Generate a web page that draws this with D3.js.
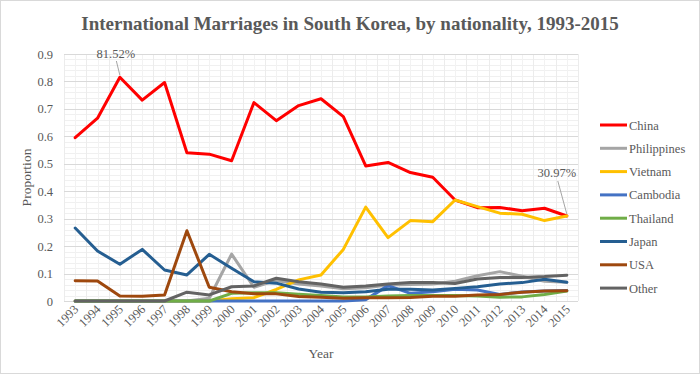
<!DOCTYPE html>
<html><head><meta charset="utf-8">
<script src="https://cdn.jsdelivr.net/npm/d3@7/dist/d3.min.js"></script>
<style>body{margin:0;background:#fff}svg{display:block}text{font-family:"Liberation Serif","Times New Roman",serif;fill:#595959}</style>
</head><body><svg id="c" width="700" height="374"></svg>
<script>
const years = ["1993","1994","1995","1996","1997","1998","1999","2000","2001","2002","2003","2004","2005","2006","2007","2008","2009","2010","2011","2012","2013","2014","2015"];
const yTicks = [0,0.1,0.2,0.3,0.4,0.5,0.6,0.7,0.8,0.9];
const seriesNames = ["China","Philippines","Vietnam","Cambodia","Thailand","Japan","USA","Other"];
const seriesColors = ["#ff0000","#a5a5a5","#ffc000","#4472c4","#70ad47","#255e91","#9e480e","#636363"];
const china       = [0.595,0.666,0.8152,0.732,0.796,0.540,0.535,0.511,0.723,0.657,0.712,0.737,0.672,0.492,0.505,0.468,0.451,0.368,0.340,0.341,0.329,0.338,0.3097];
const philippines = [0,0,0,0,0,0,0.010,0.171,0.050,0.075,0.062,0.055,0.045,0.048,0.058,0.060,0.062,0.072,0.092,0.107,0.090,0.072,0.068];
const vietnam     = [0,0,0,0,0,0,0,0.008,0.012,0.042,0.077,0.095,0.188,0.342,0.231,0.293,0.289,0.368,0.344,0.320,0.316,0.293,0.310];
const cambodia    = [0,0,0,0,0,0,0,0,0,0,0,0,0,0.005,0.056,0.028,0.034,0.043,0.040,0.024,0.033,0.036,0.038];
const thailand    = [0,0,0,0,0,0,0,0.028,0.030,0.030,0.025,0.020,0.015,0.015,0.018,0.020,0.020,0.020,0.018,0.014,0.015,0.024,0.036];
const japan       = [0.266,0.182,0.134,0.188,0.113,0.095,0.170,0.119,0.070,0.065,0.044,0.032,0.030,0.034,0.043,0.043,0.040,0.046,0.052,0.062,0.067,0.079,0.068];
const usa         = [0.074,0.073,0.018,0.017,0.022,0.256,0.050,0.034,0.026,0.026,0.016,0.014,0.010,0.012,0.012,0.013,0.017,0.017,0.022,0.024,0.032,0.036,0.037];
const other       = [0,0,0,0,0,0.032,0.022,0.052,0.055,0.083,0.070,0.062,0.050,0.055,0.062,0.067,0.067,0.064,0.080,0.086,0.086,0.089,0.094];
const seriesValues = [china,philippines,vietnam,cambodia,thailand,japan,usa,other];
const annotations = [{year:"1995", value:0.8152, label:"81.52%"},{year:"2015", value:0.3097, label:"30.97%"}];

const svg = d3.select("#c");
const L=64, R=578, T=54, B=301;
const x = d3.scaleBand().domain(years).range([L,R]);
const xc = d => x(d)+x.bandwidth()/2;
const y = d3.scaleLinear().domain([0,0.9]).range([B,T]);

// chart border
svg.append("rect").attr("x",0.5).attr("y",0.5).attr("width",699).attr("height",373).attr("fill","#fff").attr("stroke","#d9d9d9");

// title
svg.append("text").attr("x",350).attr("y",30).attr("text-anchor","middle")
  .style("font-size","19px").style("font-weight","bold").text("International Marriages in South Korea, by nationality, 1993-2015");

const g = svg.append("g");
// minor horizontal grid
const minor = d3.range(0,0.9001,0.02);
g.selectAll(".hm").data(minor).join("line").attr("x1",L).attr("x2",R)
  .attr("y1",d=>Math.round(y(d))+0.5).attr("y2",d=>Math.round(y(d))+0.5).attr("stroke","#f0f0f0").attr("stroke-width",1);
// vertical grid: boundaries and centers
const vb = years.map(d=>x(d)).concat([R]);
g.selectAll(".vb").data(vb).join("line").attr("x1",d=>Math.round(d)+0.5).attr("x2",d=>Math.round(d)+0.5)
  .attr("y1",T).attr("y2",B).attr("stroke","#ececec");
g.selectAll(".vc").data(years).join("line").attr("x1",d=>Math.round(xc(d))+0.5).attr("x2",d=>Math.round(xc(d))+0.5)
  .attr("y1",T).attr("y2",B).attr("stroke","#f2f2f2");
// major horizontal
g.selectAll(".hM").data(yTicks).join("line").attr("x1",L).attr("x2",R)
  .attr("y1",d=>Math.round(y(d))+0.5).attr("y2",d=>Math.round(y(d))+0.5).attr("stroke","#d9d9d9");

// y axis labels
const ya = svg.append("g").attr("transform",`translate(${L},0)`)
  .call(d3.axisLeft(y).tickValues(yTicks).tickFormat(d=>d===0?"0":d3.format(".1f")(d)).tickSize(0).tickPadding(11));
ya.select(".domain").remove();
ya.selectAll("text").style("font-size","12.5px").style("font-family","'Liberation Serif',serif").attr("fill","#595959");

// x axis labels
const xa = svg.append("g").attr("transform",`translate(0,${B})`)
  .call(d3.axisBottom(x).tickSize(0).tickPadding(0));
xa.select(".domain").remove();
xa.selectAll("text").style("font-size","12.5px").style("font-family","'Liberation Serif',serif").attr("fill","#595959")
  .attr("text-anchor","end").attr("dy",null).attr("y",0)
  .attr("transform","translate(4,9) rotate(-45)");

// axis titles
svg.append("text").attr("x",(L+R)/2).attr("y",358).attr("text-anchor","middle").style("font-size","13.5px").text("Year");
svg.append("text").attr("transform",`translate(31,${(T+B)/2}) rotate(-90)`).attr("text-anchor","middle").style("font-size","13.5px").text("Proportion");

// lines
const line = d3.line().x((d,i)=>xc(years[i])).y(d=>y(d));
seriesValues.forEach((vals,k)=>{
  svg.append("path").datum(vals).attr("d",line).attr("fill","none")
    .attr("stroke",seriesColors[k]).attr("stroke-width",3).attr("stroke-linejoin","round").attr("stroke-linecap","round");
});

// annotations
const ann = annotations.map(a=>({px:xc(a.year), py:y(a.value), label:a.label}));
svg.append("line").attr("x1",ann[0].px-3.5).attr("y1",61).attr("x2",ann[0].px).attr("y2",ann[0].py-2).attr("stroke","#a5a5a5");
svg.append("text").attr("x",ann[0].px-4).attr("y",58).attr("text-anchor","middle").style("font-size","12.5px").text(ann[0].label);
svg.append("line").attr("x1",ann[1].px-9).attr("y1",181).attr("x2",ann[1].px).attr("y2",ann[1].py-2).attr("stroke","#a5a5a5");
svg.append("text").attr("x",ann[1].px-10).attr("y",177).attr("text-anchor","middle").style("font-size","12.5px").text(ann[1].label);

// legend
const lg = svg.append("g");
seriesNames.forEach((n,i)=>{
  const yy = 125 + i*23.3;
  lg.append("line").attr("x1",600).attr("x2",627).attr("y1",yy).attr("y2",yy).attr("stroke",seriesColors[i]).attr("stroke-width",3);
  lg.append("text").attr("x",629).attr("y",yy+4.5).style("font-size","12.5px").text(n);
});
</script></body></html>
